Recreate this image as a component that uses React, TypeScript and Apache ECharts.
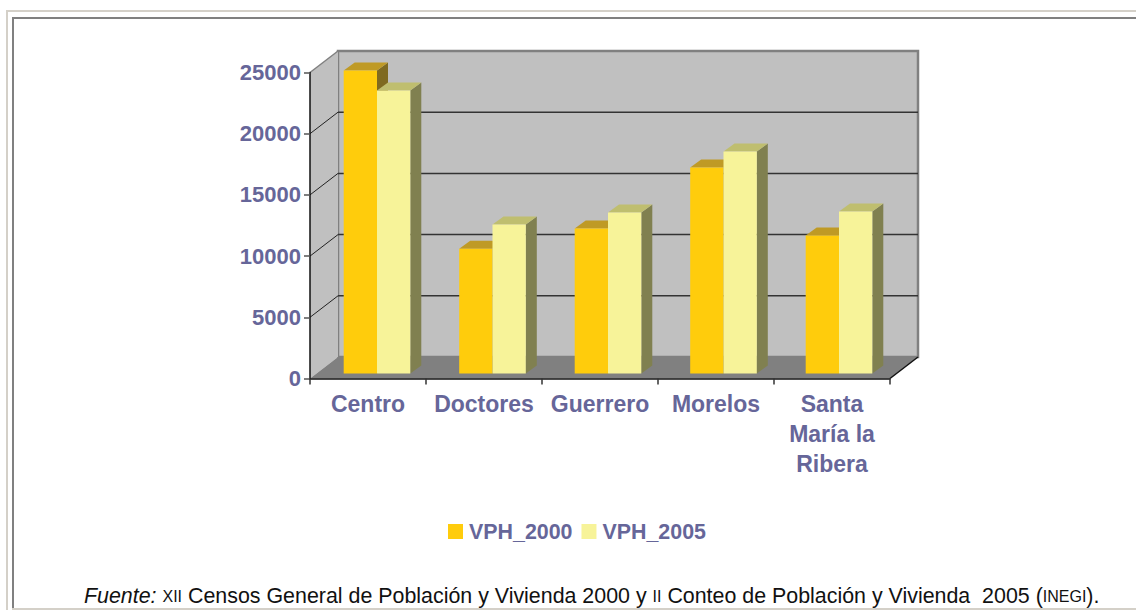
import React, { useEffect, useRef } from "react";
import * as echarts from "echarts";

const categories = ["Centro", "Doctores", "Guerrero", "Morelos", "Santa\nMaría la\nRibera"];
const vph2000 = [24750, 10200, 11850, 16830, 11280];
const vph2005 = [23120, 12170, 13150, 18140, 13240];
const yTicks = [5000, 10000, 15000, 20000, 25000];

const LABEL = "#666699";
const FONT = "'Liberation Sans', Arial, sans-serif";
const DX = 28;
const DY = -21.5;
const BAR_W = 33.3;
const BAR_DX = 11;
const BAR_DY = -8;
const SHIFT_X = 9;
const SHIFT_Y = -5;

function frameItem(params: any, api: any) {
  const cs = params.coordSys;
  const x0 = cs.x;
  const x1 = cs.x + cs.width;
  const yTop = cs.y;
  const yBot = cs.y + cs.height;
  const children: any[] = [
    { type: "rect", shape: { x: x0 + DX, y: yTop + DY, width: cs.width, height: cs.height }, style: { fill: "#C0C0C0", stroke: "#808080", lineWidth: 2.5 } },
    { type: "polygon", shape: { points: [[x0, yTop], [x0 + DX, yTop + DY], [x0 + DX, yBot + DY], [x0, yBot]] }, style: { fill: "#C0C0C0" } },
    { type: "line", shape: { x1: x0, y1: yTop, x2: x0 + DX, y2: yTop + DY }, style: { stroke: "#808080", lineWidth: 1.5 } },
    { type: "polygon", shape: { points: [[x0, yBot], [x0 + DX, yBot + DY], [x1 + DX, yBot + DY], [x1, yBot]] }, style: { fill: "#808080" } },
    { type: "line", shape: { x1: x1, y1: yBot, x2: x1 + DX, y2: yBot + DY }, style: { stroke: "#111111", lineWidth: 1.5 } },
  ];
  yTicks.forEach((v) => {
    const y = api.coord([0, v])[1];
    if (v < yTicks[yTicks.length - 1]) {
      children.push({ type: "line", shape: { x1: x0 + DX, y1: y + DY, x2: x1 + DX, y2: y + DY }, style: { stroke: "#333333", lineWidth: 1.5 } });
      children.push({ type: "line", shape: { x1: x0, y1: y, x2: x0 + DX, y2: y + DY }, style: { stroke: "#222222", lineWidth: 1 } });
    }
  });
  return { type: "group", children };
}

function barItem(front: string, top: string, side: string, slot: number) {
  return (_params: any, api: any) => {
    const c = api.coord([api.value(0), api.value(1)]);
    const base = api.coord([api.value(0), 0]);
    const l = c[0] + SHIFT_X - 0.5 * api.value(0) + slot * BAR_W;
    const r = l + BAR_W;
    const t = c[1] + SHIFT_Y;
    const b = base[1] + SHIFT_Y;
    return {
      type: "group",
      children: [
        { type: "polygon", shape: { points: [[r, t], [r + BAR_DX, t + BAR_DY], [r + BAR_DX, b + BAR_DY], [r, b]] }, style: { fill: side } },
        { type: "polygon", shape: { points: [[l, t], [l + BAR_DX, t + BAR_DY], [r + BAR_DX, t + BAR_DY], [r, t]] }, style: { fill: top } },
        { type: "rect", shape: { x: l, y: t, width: BAR_W, height: b - t }, style: { fill: front } },
      ],
    };
  };
}

export default function App() {
  const ref = useRef<HTMLDivElement>(null);
  useEffect(() => {
    const chart = echarts.init(ref.current!, undefined, { renderer: "svg" });
    chart.setOption({
      animation: false,
      backgroundColor: "#ffffff",
      grid: { left: 310, right: 246, top: 72.5, bottom: 231.5 },
      legend: {
        left: 443,
        top: 516,
        itemWidth: 15,
        itemHeight: 15,
        itemGap: 9,
        icon: "rect",
        data: ["VPH_2000", "VPH_2005"],
        textStyle: { color: LABEL, fontFamily: FONT, fontWeight: "bold", fontSize: 21.4, padding: [0, 0, 4, 1] },
      },
      xAxis: {
        type: "category",
        data: categories,
        z: 5,
        axisLine: { lineStyle: { color: "#111111", width: 1.5 } },
        axisTick: { show: true, length: 6, lineStyle: { color: "#333333", width: 1.5 } },
        axisLabel: { color: LABEL, fontFamily: FONT, fontWeight: "bold", fontSize: 23, lineHeight: 30, margin: 10, interval: 0 },
      },
      yAxis: {
        type: "value",
        min: 0,
        max: 25000,
        interval: 5000,
        z: 5,
        axisLine: { show: true, lineStyle: { color: "#111111", width: 1.5 } },
        axisTick: { show: true, length: 6, lineStyle: { color: "#555555", width: 1.5 } },
        axisLabel: { color: LABEL, fontFamily: FONT, fontWeight: "bold", fontSize: 22, margin: 9, padding: [0, 0, 2, 0], formatter: (v: number) => String(v) },
        splitLine: { show: false },
      },
      series: [
        { type: "custom", name: "frame", silent: true, z: 1, clip: false, data: [[0, 0]], encode: { x: 0, y: 1 }, renderItem: frameItem },
        {
          type: "custom", name: "VPH_2000", z: 2, clip: false,
          itemStyle: { color: "#FFCC0C" },
          data: vph2000.map((v, i) => [i, v]), encode: { x: 0, y: 1 },
          renderItem: barItem("#FFCC0C", "#BF9A25", "#7F6A20", -1),
        },
        {
          type: "custom", name: "VPH_2005", z: 3, clip: false,
          itemStyle: { color: "#F7F399" },
          data: vph2005.map((v, i) => [i, v]), encode: { x: 0, y: 1 },
          renderItem: barItem("#F7F399", "#BFBE6F", "#808050", 0),
        },
      ],
      graphic: [
        { type: "rect", silent: true, shape: { x: 6, y: 10, width: 1130, height: 2 }, style: { fill: "#D4D0C8" } },
        { type: "rect", silent: true, shape: { x: 6, y: 10, width: 2, height: 600 }, style: { fill: "#D4D0C8" } },
        { type: "rect", silent: true, shape: { x: 12, y: 17, width: 1124, height: 2 }, style: { fill: "#808080" } },
        { type: "rect", silent: true, shape: { x: 12, y: 17, width: 2, height: 591 }, style: { fill: "#808080" } },
        { type: "rect", silent: true, shape: { x: 12, y: 608, width: 1124, height: 2 }, style: { fill: "#D4D0C8" } },
        {
          type: "text",
          x: 84,
          y: 596,
          style: {
            text: "{i|Fuente:} {s|XII} {n|Censos General de Población y Vivienda 2000 y} {s|II} {n|Conteo de Población y Vivienda  2005 (}{s|INEGI}{n|).}",
            verticalAlign: "middle",
            fontFamily: FONT,
            fontSize: 21.4,
            fill: "#111111",
            rich: {
              i: { fontStyle: "italic", fontSize: 21.4, fontFamily: FONT, fill: "#111111" },
              n: { fontSize: 21.4, fontFamily: FONT, fill: "#111111" },
              s: { fontSize: 16, fontFamily: FONT, fill: "#111111" },
            },
          },
        },
      ],
    });
    return () => chart.dispose();
  }, []);
  return <div ref={ref} style={{ position: "absolute", left: 0, top: 0, width: 1136, height: 610 }} />;
}
